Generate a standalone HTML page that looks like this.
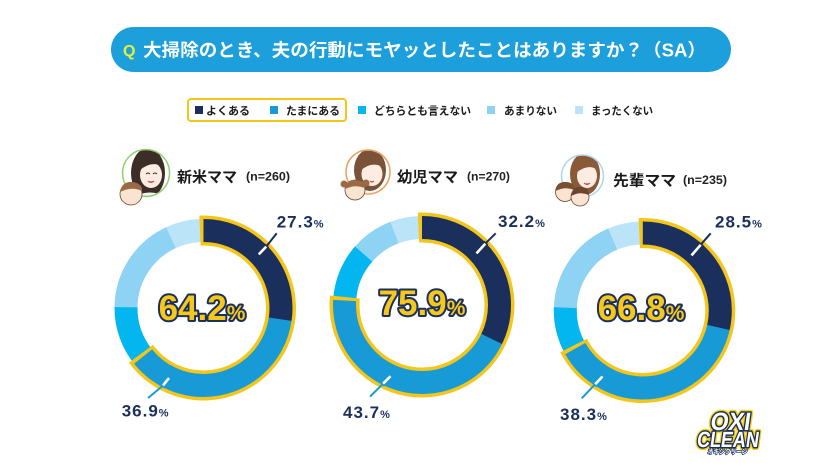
<!DOCTYPE html>
<html><head><meta charset="utf-8"><style>
html,body{margin:0;padding:0;background:#fff;}
svg{display:block;}
text{font-family:"Liberation Sans","Noto Sans CJK JP",sans-serif;font-weight:bold;}
</style></head><body>
<svg width="840" height="473" viewBox="0 0 840 473" xmlns="http://www.w3.org/2000/svg">
<defs>
<clipPath id="a1"><circle cx="146" cy="173" r="22.8"/></clipPath>
<clipPath id="a2"><circle cx="368" cy="172" r="21.3"/></clipPath>
<clipPath id="a3"><circle cx="582.5" cy="176" r="20.3"/></clipPath>
</defs>
<rect width="840" height="473" fill="#fff"/>

<!-- Header -->
<rect x="111" y="27" width="620" height="45" rx="22.5" fill="#1d9fdb"/>
<text x="123" y="56" font-size="16" fill="#e5f03a">Q</text>
<text x="143" y="56.5" font-size="18" fill="#fff" textLength="563" lengthAdjust="spacingAndGlyphs">大掃除のとき、夫の行動にモヤッとしたことはありますか？（SA）</text>

<!-- Legend -->
<rect x="188" y="99" width="158" height="22" rx="3" fill="none" stroke="#f5c518" stroke-width="2"/>
<rect x="195" y="106" width="8" height="8" fill="#1b2f5c"/>
<text x="206" y="114.5" font-size="11" fill="#1a1a1a" textLength="44" lengthAdjust="spacingAndGlyphs">よくある</text>
<rect x="270" y="106" width="8" height="8" fill="#179ad6"/>
<text x="286" y="114.5" font-size="11" fill="#1a1a1a" textLength="54" lengthAdjust="spacingAndGlyphs">たまにある</text>
<rect x="358" y="106" width="8" height="8" fill="#03b6ef"/>
<text x="374" y="114.5" font-size="11" fill="#1a1a1a" textLength="97" lengthAdjust="spacingAndGlyphs">どちらとも言えない</text>
<rect x="487" y="106" width="8" height="8" fill="#8ed2f4"/>
<text x="504" y="114.5" font-size="11" fill="#1a1a1a" textLength="53" lengthAdjust="spacingAndGlyphs">あまりない</text>
<rect x="575" y="106" width="8" height="8" fill="#bbe4f8"/>
<text x="591" y="114.5" font-size="11" fill="#1a1a1a" textLength="62" lengthAdjust="spacingAndGlyphs">まったくない</text>

<!-- Avatar 1 -->
<circle cx="146" cy="173" r="23.5" fill="#fff" stroke="#8fd16e" stroke-width="1.5"/>
<g clip-path="url(#a1)">
 <ellipse cx="148" cy="173" rx="17" ry="25" fill="#3d2d29"/>
 <ellipse cx="151" cy="175" rx="11" ry="13" fill="#fdece2"/>
 <path d="M137 168 Q148 150 163 167 Q152 160 140 170 Z" fill="#3d2d29"/>
 <path d="M130 199 Q150 186 170 199 L170 202 L130 202Z" fill="#f3f3f3"/>
 <path d="M146 174 q2 -2 4 0 M153 174 q2 -2 4 0" stroke="#3d2d29" stroke-width="0.9" fill="none"/>
 <path d="M148 181 q3 3 6 0" stroke="#c0504a" stroke-width="1.2" fill="#e88"/>
</g>
<circle cx="131" cy="194" r="11" fill="#fbe3d2" stroke="#6b4530" stroke-width="0.8"/>
<path d="M120 192 Q122 181 133 182 Q143 184 142 191 Q132 186 120 192Z" fill="#9a6a45"/>
<text x="177" y="182" font-size="15" fill="#1a1a1a" textLength="60" lengthAdjust="spacingAndGlyphs">新米ママ</text>
<text x="246" y="180.5" font-size="12" fill="#222" textLength="44" lengthAdjust="spacingAndGlyphs">(n=260)</text>

<!-- Avatar 2 -->
<circle cx="368" cy="172" r="22" fill="#fff" stroke="#eea05e" stroke-width="1.5"/>
<g clip-path="url(#a2)">
 <ellipse cx="370" cy="170" rx="16" ry="21" fill="#7a5238"/>
 <ellipse cx="372" cy="174" rx="10.5" ry="12" fill="#fdece2"/>
 <path d="M358 168 Q368 150 384 168 Q372 160 360 171 Z" fill="#7a5238"/>
 <path d="M352 197 Q370 186 388 197 L388 200 L352 200Z" fill="#e8f0f4"/>
 <path d="M370 181 q2 2 4 0" stroke="#c0504a" stroke-width="1.2" fill="#e88"/>
</g>
<circle cx="355" cy="190" r="10" fill="#fbe3d2" stroke="#6b4530" stroke-width="0.8"/>
<path d="M345 189 Q346 179 356 180 Q366 181 365 188 Q355 184 345 189Z" fill="#9a6a45"/>
<circle cx="344" cy="184" r="3.5" fill="#9a6a45"/>
<circle cx="366" cy="183" r="3.5" fill="#9a6a45"/>
<text x="397" y="182" font-size="15" fill="#1a1a1a" textLength="61" lengthAdjust="spacingAndGlyphs">幼児ママ</text>
<text x="467" y="180.5" font-size="12" fill="#222" textLength="43" lengthAdjust="spacingAndGlyphs">(n=270)</text>

<!-- Avatar 3 -->
<circle cx="582.5" cy="176" r="21" fill="#fff" stroke="#aad6ef" stroke-width="1.5"/>
<g clip-path="url(#a3)">
 <ellipse cx="585" cy="174" rx="15" ry="21" fill="#8a5a38"/>
 <ellipse cx="587" cy="176" rx="10" ry="12" fill="#fdece2"/>
 <path d="M574 170 Q584 154 598 170 Q588 163 576 173 Z" fill="#8a5a38"/>
 <path d="M568 200 Q586 188 602 200 L602 203 L568 203Z" fill="#f5f5f5"/>
 <path d="M584 183 q3 3 6 0" stroke="#c0504a" stroke-width="1.2" fill="#e88"/>
</g>
<circle cx="565" cy="192" r="9.5" fill="#fbe3d2" stroke="#6b4530" stroke-width="0.8"/>
<path d="M555.5 191 Q556 182 565 182 Q575 182 574.5 190 Q565 186 555.5 191Z" fill="#7a4f32"/>
<circle cx="580" cy="197" r="9" fill="#fbe3d2" stroke="#6b4530" stroke-width="0.8"/>
<path d="M571 196 Q572 187 580 187 Q589 187 589 195 Q580 191 571 196Z" fill="#6b4530"/>
<text x="613" y="185.5" font-size="15" fill="#1a1a1a" textLength="63" lengthAdjust="spacingAndGlyphs">先輩ママ</text>
<text x="683" y="184" font-size="12" fill="#222" textLength="44" lengthAdjust="spacingAndGlyphs">(n=235)</text>

<!-- Donut 1 -->
<g fill="none" stroke-width="23">
 <circle cx="203.5" cy="308" r="77.5" stroke="#03b6ef" stroke-dasharray="53.8 1000" stroke-dashoffset="-312.62" transform="rotate(-90 203.5 308)"/>
 <circle cx="203.5" cy="308" r="77.5" stroke="#8ed2f4" stroke-dasharray="87.8 1000" stroke-dashoffset="-365.89" transform="rotate(-90 203.5 308)"/>
 <circle cx="203.5" cy="308" r="77.5" stroke="#bbe4f8" stroke-dasharray="34.2 1000" stroke-dashoffset="-453.13" transform="rotate(-90 203.5 308)"/>
 <circle cx="203.5" cy="308" r="77.5" stroke="#f4c51b" stroke-width="30" stroke-dasharray="319.62 1000" transform="rotate(-92.59 203.5 308)"/>
 <circle cx="203.5" cy="308" r="77.5" stroke="#1b2f5c" stroke-dasharray="133.4 1000" transform="rotate(-90 203.5 308)"/>
 <circle cx="203.5" cy="308" r="77.5" stroke="#179ad6" stroke-dasharray="179.68 1000" stroke-dashoffset="-132.94" transform="rotate(-90 203.5 308)"/>
</g>
<line x1="276.7" y1="233.3" x2="266.7" y2="246" stroke="#1b2f5c" stroke-width="2"/>
<line x1="267.2" y1="245.4" x2="258" y2="255.3" stroke="#1b2f5c" stroke-width="5.5"/>
<line x1="266.2" y1="246.6" x2="258.8" y2="254.4" stroke="#fff" stroke-width="2.6"/>
<line x1="148" y1="398" x2="162.5" y2="386" stroke="#179ad6" stroke-width="2"/>
<line x1="162" y1="386.6" x2="170" y2="377" stroke="#179ad6" stroke-width="5.5"/>
<line x1="163" y1="385.4" x2="169" y2="378.1" stroke="#fff" stroke-width="2.6"/>
<text x="276.7" y="227.3" font-size="17" fill="#1b2f5c" letter-spacing="1">27.3<tspan font-size="11" letter-spacing="0">%</tspan></text>
<text x="121.7" y="416.7" font-size="17" fill="#1b2f5c" letter-spacing="1">36.9<tspan font-size="11" letter-spacing="0">%</tspan></text>
<text x="202" y="320" font-size="35" text-anchor="middle" fill="#f6c81c" stroke="#1b2f5c" stroke-width="4" stroke-linejoin="round" paint-order="stroke">64.2<tspan font-size="21">%</tspan></text>

<!-- Donut 2 -->
<g fill="none" stroke-width="23">
 <circle cx="422" cy="305" r="77.5" stroke="#03b6ef" stroke-dasharray="51.6 1000" stroke-dashoffset="-369.60" transform="rotate(-90 422 305)"/>
 <circle cx="422" cy="305" r="77.5" stroke="#8ed2f4" stroke-dasharray="38.4 1000" stroke-dashoffset="-420.67" transform="rotate(-90 422 305)"/>
 <circle cx="422" cy="305" r="77.5" stroke="#bbe4f8" stroke-dasharray="28.8 1000" stroke-dashoffset="-458.55" transform="rotate(-90 422 305)"/>
 <circle cx="422" cy="305" r="77.5" stroke="#f4c51b" stroke-width="30" stroke-dasharray="376.6 1000" transform="rotate(-92.59 422 305)"/>
 <circle cx="422" cy="305" r="77.5" stroke="#1b2f5c" stroke-dasharray="157.3 1000" transform="rotate(-90 422 305)"/>
 <circle cx="422" cy="305" r="77.5" stroke="#179ad6" stroke-dasharray="212.8 1000" stroke-dashoffset="-156.80" transform="rotate(-90 422 305)"/>
</g>
<line x1="495.7" y1="233.3" x2="485.8" y2="243.1" stroke="#1b2f5c" stroke-width="2"/>
<line x1="486.3" y1="242.5" x2="475.6" y2="254.4" stroke="#1b2f5c" stroke-width="5.5"/>
<line x1="485.3" y1="243.7" x2="476.5" y2="253.4" stroke="#fff" stroke-width="2.6"/>
<line x1="370" y1="396.7" x2="382.6" y2="384.1" stroke="#179ad6" stroke-width="2"/>
<line x1="382" y1="384.7" x2="391.5" y2="375.2" stroke="#179ad6" stroke-width="5.5"/>
<line x1="383.1" y1="383.6" x2="390.5" y2="376.2" stroke="#fff" stroke-width="2.6"/>
<text x="498" y="227" font-size="17" fill="#1b2f5c" letter-spacing="1">32.2<tspan font-size="11" letter-spacing="0">%</tspan></text>
<text x="343" y="418" font-size="17" fill="#1b2f5c" letter-spacing="1">43.7<tspan font-size="11" letter-spacing="0">%</tspan></text>
<text x="422" y="315" font-size="35" text-anchor="middle" fill="#f6c81c" stroke="#1b2f5c" stroke-width="4" stroke-linejoin="round" paint-order="stroke">75.9<tspan font-size="21">%</tspan></text>

<!-- Donut 3 -->
<g fill="none" stroke-width="23">
 <circle cx="642.8" cy="310.5" r="77.5" stroke="#03b6ef" stroke-dasharray="43.2 1000" stroke-dashoffset="-325.28" transform="rotate(-90 642.8 310.5)"/>
 <circle cx="642.8" cy="310.5" r="77.5" stroke="#8ed2f4" stroke-dasharray="88.4 1000" stroke-dashoffset="-367.92" transform="rotate(-90 642.8 310.5)"/>
 <circle cx="642.8" cy="310.5" r="77.5" stroke="#bbe4f8" stroke-dasharray="31.6 1000" stroke-dashoffset="-455.84" transform="rotate(-90 642.8 310.5)"/>
 <circle cx="642.8" cy="310.5" r="77.5" stroke="#f4c51b" stroke-width="30" stroke-dasharray="332.28 1000" transform="rotate(-92.59 642.8 310.5)"/>
 <circle cx="642.8" cy="310.5" r="77.5" stroke="#1b2f5c" stroke-dasharray="139.3 1000" transform="rotate(-90 642.8 310.5)"/>
 <circle cx="642.8" cy="310.5" r="77.5" stroke="#179ad6" stroke-dasharray="186.5 1000" stroke-dashoffset="-138.78" transform="rotate(-90 642.8 310.5)"/>
</g>
<line x1="710.7" y1="233.3" x2="701.2" y2="244.2" stroke="#1b2f5c" stroke-width="2"/>
<line x1="701.7" y1="243.6" x2="690.6" y2="256.4" stroke="#1b2f5c" stroke-width="5.5"/>
<line x1="700.7" y1="244.8" x2="691.5" y2="255.4" stroke="#fff" stroke-width="2.6"/>
<line x1="581.7" y1="398.3" x2="594.7" y2="384.7" stroke="#179ad6" stroke-width="2"/>
<line x1="594.2" y1="385.3" x2="603.4" y2="375.6" stroke="#179ad6" stroke-width="5.5"/>
<line x1="595.2" y1="384.2" x2="602.5" y2="376.5" stroke="#fff" stroke-width="2.6"/>
<text x="715" y="227.3" font-size="17" fill="#1b2f5c" letter-spacing="1">28.5<tspan font-size="11" letter-spacing="0">%</tspan></text>
<text x="560" y="420" font-size="17" fill="#1b2f5c" letter-spacing="1">38.3<tspan font-size="11" letter-spacing="0">%</tspan></text>
<text x="641" y="320" font-size="35" text-anchor="middle" fill="#f6c81c" stroke="#1b2f5c" stroke-width="4" stroke-linejoin="round" paint-order="stroke">66.8<tspan font-size="21">%</tspan></text>

<!-- Logo -->
<g transform="translate(790,0) skewX(-8)">
 <text x="0" y="430" font-size="25" text-anchor="middle" fill="#f5d21c" stroke="#f5d21c" stroke-width="6" stroke-linejoin="round" textLength="40" lengthAdjust="spacingAndGlyphs">OXI</text>
 <text x="0" y="447" font-size="22" text-anchor="middle" fill="#f5d21c" stroke="#f5d21c" stroke-width="6" stroke-linejoin="round" textLength="62" lengthAdjust="spacingAndGlyphs">CLEAN</text>
 <text x="0" y="430" font-size="25" text-anchor="middle" fill="#fff" stroke="#1b2f5c" stroke-width="3" stroke-linejoin="round" paint-order="stroke" textLength="40" lengthAdjust="spacingAndGlyphs">OXI</text>
 <text x="0" y="447" font-size="22" text-anchor="middle" fill="#fff" stroke="#1b2f5c" stroke-width="3" stroke-linejoin="round" paint-order="stroke" textLength="62" lengthAdjust="spacingAndGlyphs">CLEAN</text>
 <text x="1" y="454" font-size="7" text-anchor="middle" fill="#fff" stroke="#1b2f5c" stroke-width="1.5" paint-order="stroke" textLength="40" lengthAdjust="spacingAndGlyphs">オキシクリーン</text>
</g>
</svg>
</body></html>
